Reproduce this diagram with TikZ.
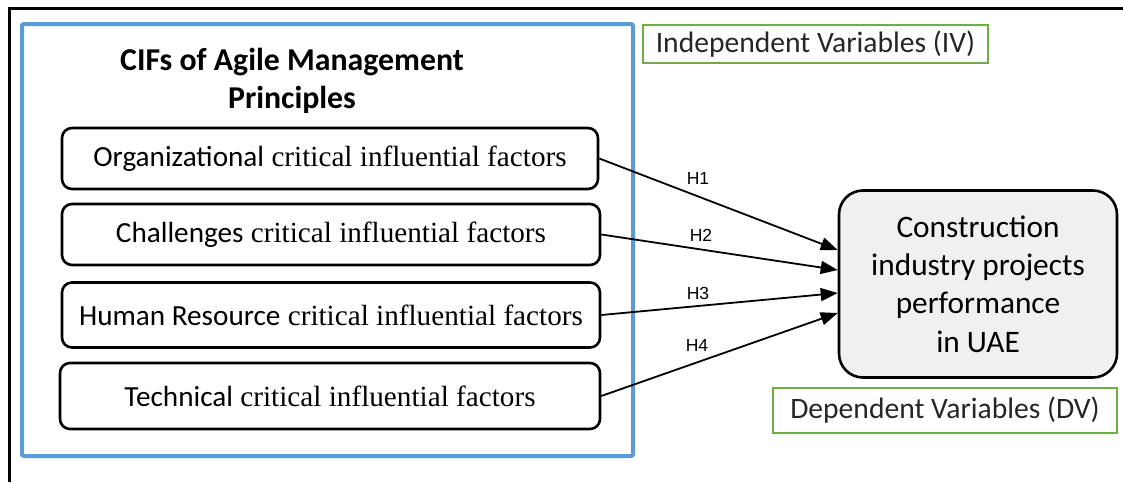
\documentclass[tikz,border=0pt]{standalone}
\usepackage{fontspec}
\setmainfont{Liberation Serif}
\newfontfamily\calibrifont{Carlito}
\newfontfamily\arialfont{Liberation Sans}
\usetikzlibrary{arrows.meta}
\definecolor{frameblue}{RGB}{91,155,213}
\definecolor{vargreen}{RGB}{112,173,71}
\definecolor{dvfill}{RGB}{240,240,240}
\definecolor{vartext}{RGB}{38,38,38}

\begin{document}
\begin{tikzpicture}[x=1pt,y=-1pt,
  factorbox/.style={draw, line width=2.6pt, rounded corners=10pt, inner sep=0pt,
    align=center, font=\fontsize{29.2}{34}\selectfont},
  outcomebox/.style={draw, line width=2.6pt, rounded corners=24pt, fill=dvfill,
    inner sep=0pt, align=center, font=\calibrifont\fontsize{31.3}{38.3}\selectfont},
  varlabel/.style={draw=vargreen, line width=1.6pt, text=vartext, inner sep=0pt,
    font=\calibrifont\fontsize{29.6}{34}\selectfont},
  hyp/.style={-{Triangle[length=17pt,width=13pt]}, line width=1.8pt},
  hlabel/.style={font=\arialfont\fontsize{17.5}{20}\selectfont}
]
\useasboundingbox (0,0) rectangle (1123,482);

% outer frame: top and left edges
\draw[line width=3pt] (9,482) -- (9,8) -- (1123,8);

% group of independent variables
\draw[frameblue, line width=4pt, rounded corners=2pt] (22,24) rectangle (633,456);
\node[font=\calibrifont\bfseries\fontsize{31.8}{38}\selectfont, align=center] (title)
  at (292,81) {CIFs of Agile Management\\Principles};

\node[factorbox, minimum width=536pt, minimum height=61pt] (f1) at (330,158.5)
  {{\calibrifont Organizational} critical influential factors};
\node[factorbox, minimum width=538pt, minimum height=61pt] (f2) at (331,234.5)
  {{\calibrifont Challenges} critical influential factors};
\node[factorbox, minimum width=538pt, minimum height=65pt] (f3) at (331,315)
  {{\calibrifont Human Resource} critical influential factors};
\node[factorbox, minimum width=540pt, minimum height=66pt] (f4) at (330,396)
  {{\calibrifont Technical} critical influential factors};

% dependent variable
\node[outcomebox, minimum width=278pt, minimum height=187pt] (dv) at (978,284)
  {Construction\\industry projects\\performance\\in UAE};

% variable type labels
\node[varlabel, minimum width=345pt, minimum height=38pt] (iv) at (815.5,44)
  {Independent Variables (IV)};
\node[varlabel, minimum width=344pt, minimum height=45pt] (dvl) at (945,410.5)
  {Dependent Variables (DV)};

% hypotheses
\coordinate (t1) at ([yshift=34pt]dv.west);
\coordinate (t2) at ([yshift=14pt]dv.west);
\coordinate (t3) at ([yshift=-9pt]dv.west);
\coordinate (t4) at ([yshift=-29pt]dv.west);
\draw[hyp] (f1.east) -- (t1);
\draw[hyp] (f2.east) -- (t2);
\draw[hyp] (f3.east) -- (t3);
\draw[hyp] (f4.east) -- (t4);
\node[hlabel] (h1) at (698,178) {H1};
\node[hlabel] (h2) at (701,235) {H2};
\node[hlabel] (h3) at (698,293) {H3};
\node[hlabel] (h4) at (697,345) {H4};
\end{tikzpicture}
\end{document}
